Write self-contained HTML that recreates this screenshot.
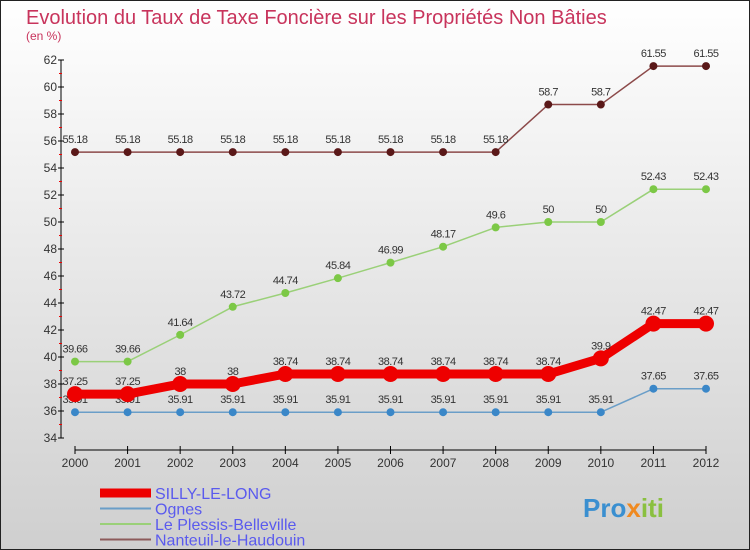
<!DOCTYPE html>
<html><head><meta charset="utf-8"><style>
body{margin:0}
#c{width:750px;height:550px;position:relative;overflow:hidden;font-family:"Liberation Sans",sans-serif}
svg text{font-family:"Liberation Sans",sans-serif}
</style></head><body>
<div id="c">
<svg id="s" width="750" height="550" xmlns="http://www.w3.org/2000/svg">
<defs><linearGradient id="bg" x1="0" y1="0" x2="0" y2="1"><stop offset="0" stop-color="#ffffff"/><stop offset="1" stop-color="#cfcfcf"/></linearGradient></defs>
<rect x="0.5" y="0.5" width="749" height="549" fill="url(#bg)" stroke="#222"/>
<text x="26" y="24" font-size="20" fill="#c8345c">Evolution du Taux de Taxe Foncière sur les Propriétés Non Bâties</text>
<text x="26" y="40" font-size="12" fill="#c8345c">(en %)</text>
<g id="axes"></g>
<g id="series"></g>
<g id="legend"></g>
<text x="583" y="517" font-size="26" font-weight="bold" fill="#3a8fd0">Pro<tspan fill="#f08a20">x</tspan><tspan fill="#8ac040">iti</tspan></text>
</svg></div>
<script>
const years=["2000","2001","2002","2003","2004","2005","2006","2007","2008","2009","2010","2011","2012"];
const silly=[37.25,37.25,38,38,38.74,38.74,38.74,38.74,38.74,38.74,39.9,42.47,42.47];
const ognes=[35.91,35.91,35.91,35.91,35.91,35.91,35.91,35.91,35.91,35.91,35.91,37.65,37.65];
const plessis=[39.66,39.66,41.64,43.72,44.74,45.84,46.99,48.17,49.6,50,50,52.43,52.43];
const nanteuil=[55.18,55.18,55.18,55.18,55.18,55.18,55.18,55.18,55.18,58.7,58.7,61.55,61.55];
const yTicks=[34,36,38,40,42,44,46,48,50,52,54,56,58,60,62];
const NS="http://www.w3.org/2000/svg";
const x=i=>75+i*(706-75)/(years.length-1);
const y=v=>438-(v-34)*(378/28);
function mk(t,a,p){const e=document.createElementNS(NS,t);for(const k in a)e.setAttribute(k,a[k]);p.appendChild(e);return e;}
const ax=document.getElementById('axes');
let l=mk('line',{x1:61,y1:y(62),x2:61,y2:y(34),stroke:'#000'},ax);

yTicks.forEach(v=>{mk('line',{x1:58,x2:64,y1:y(v),y2:y(v),stroke:'#000'},ax);
 if(v<62)mk('line',{x1:59,x2:62,y1:y(v+1),y2:y(v+1),stroke:'#e00'},ax);
 const t=mk('text',{x:57,y:y(v)+4,'font-size':12,'text-anchor':'end',fill:'#333'},ax);t.textContent=v;
 });
l=mk('line',{x1:75,x2:706,y1:450,y2:450,stroke:'#000'},ax);

years.forEach((yr,i)=>{mk('line',{x1:x(i),x2:x(i),y1:446,y2:454,stroke:'#000'},ax);
 const t=mk('text',{x:x(i),y:467,'font-size':12,'text-anchor':'middle',fill:'#333'},ax);t.textContent=yr;
 });
const sg=document.getElementById('series');
function series(data,name,color,dot,w,r){
 const g=mk('g',{},sg);
 mk('polyline',{points:data.map((v,i)=>x(i)+','+y(v)).join(' '),fill:'none',stroke:color,'stroke-width':w,'stroke-linejoin':'round'},g);
 data.forEach((v,i)=>{const c=mk('circle',{cx:x(i),cy:y(v),r:r,fill:dot},g);
  
  const t=mk('text',{x:x(i),y:y(v)-9,'font-size':11,'text-anchor':'middle',fill:'#333','letter-spacing':'-0.5'},g);t.textContent=v;
  });
}
series(ognes,'ognes','#6a9ec8','#3a87c8',1.5,4);
series(plessis,'plessis','#9ad078','#7cc846',1.5,4);
series(nanteuil,'nanteuil','#8c4a4a','#5a1818',1.5,4);
series(silly,'silly','#ee0000','#ee0000',9,8);
const lg=document.getElementById('legend');
[['SILLY-LE-LONG','#ee0000',9],['Ognes','#6a9ec8',2],['Le Plessis-Belleville','#9ad078',2],['Nanteuil-le-Haudouin','#8c5a5a',2]].forEach((e,i)=>{
 const g=mk('g',{},lg);
 const yy=493+i*15.5;
 mk('line',{x1:100,x2:151,y1:yy,y2:yy,stroke:e[1],'stroke-width':e[2]},g);
 const t=mk('text',{x:155,y:yy+6,'font-size':16,fill:'#5a5aee'},g);t.textContent=e[0];});
</script>
</body></html>
